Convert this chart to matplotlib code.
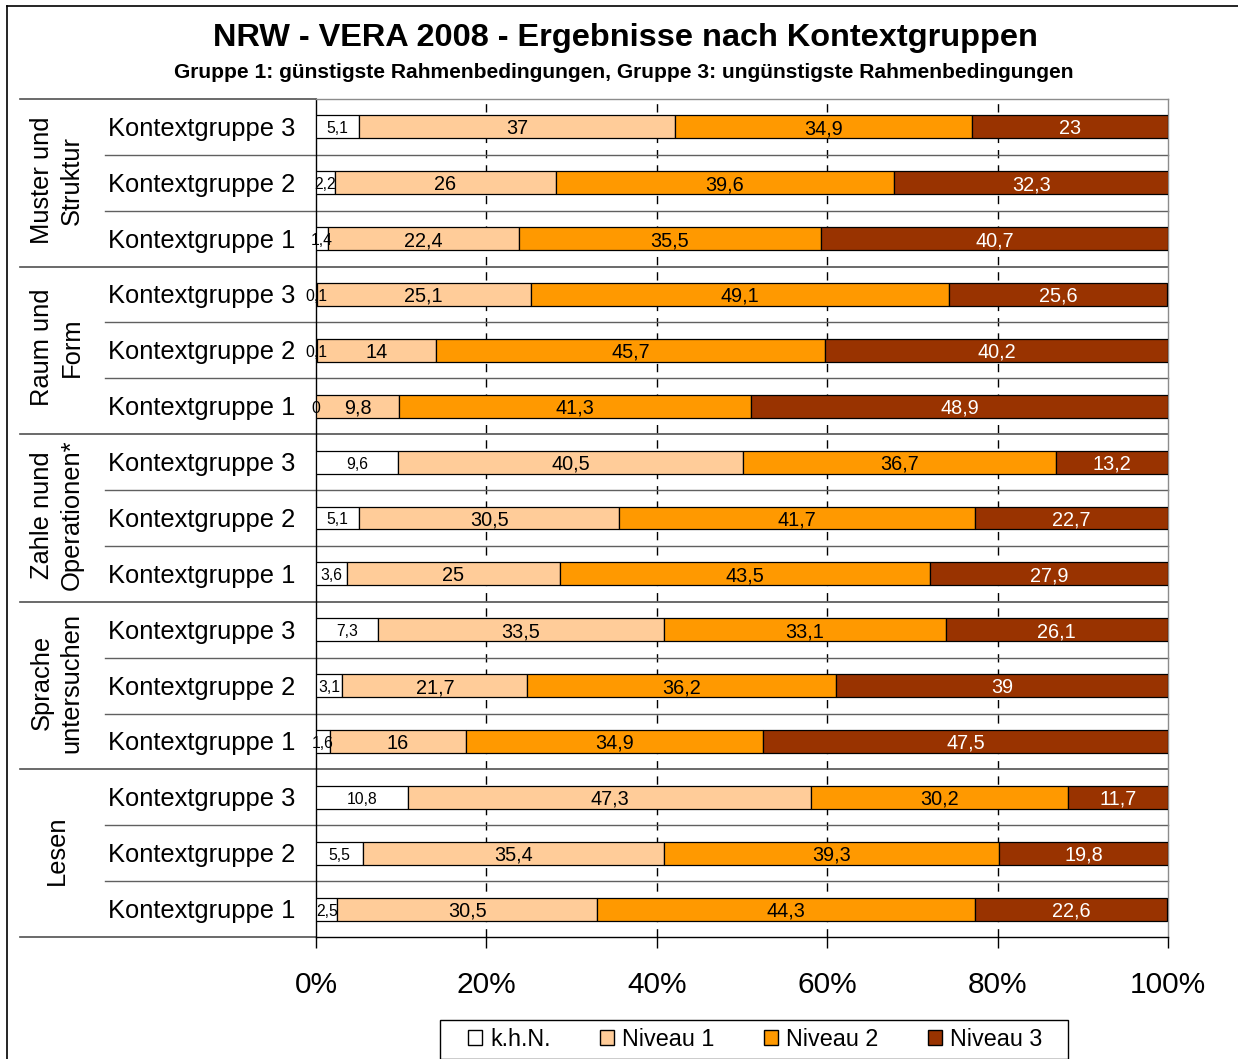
import matplotlib
matplotlib.use("Agg")
import matplotlib.pyplot as plt
import matplotlib.transforms as mtransforms
from matplotlib.lines import Line2D
from matplotlib.patches import Patch, Rectangle
import numpy as np

plt.rcParams['font.family'] = ['Liberation Sans', 'DejaVu Sans']

title = "NRW - VERA 2008 - Ergebnisse nach Kontextgruppen"
subtitle = "Gruppe 1: günstigste Rahmenbedingungen, Gruppe 3: ungünstigste Rahmenbedingungen"

groups = ["Muster und\nStruktur", "Raum und\nForm", "Zahle nund\nOperationen*",
          "Sprache\nuntersuchen", "Lesen"]
rows = ["Kontextgruppe 3", "Kontextgruppe 2", "Kontextgruppe 1"] * 5
series = ["k.h.N.", "Niveau 1", "Niveau 2", "Niveau 3"]

# values top to bottom
khn = [5.1, 2.2, 1.4, 0.1, 0.1, 0, 9.6, 5.1, 3.6, 7.3, 3.1, 1.6, 10.8, 5.5, 2.5]
niv1 = [37, 26, 22.4, 25.1, 14, 9.8, 40.5, 30.5, 25, 33.5, 21.7, 16, 47.3, 35.4, 30.5]
niv2 = [34.9, 39.6, 35.5, 49.1, 45.7, 41.3, 36.7, 41.7, 43.5, 33.1, 36.2, 34.9, 30.2, 39.3, 44.3]
niv3 = [23, 32.3, 40.7, 25.6, 40.2, 48.9, 13.2, 22.7, 27.9, 26.1, 39, 47.5, 11.7, 19.8, 22.6]
xticks = [0, 20, 40, 60, 80, 100]
xticklabels = ["0%", "20%", "40%", "60%", "80%", "100%"]

colors = ["#FFFFFF", "#FFCC99", "#FF9900", "#993300"]
label_colors = ["black", "black", "black", "white"]
label_sizes = [11.3, 14.3, 14.3, 14.3]

W, H = 1238, 1059
fig = plt.figure(figsize=(W / 100, H / 100), dpi=100)
L, R, T, B = 316, 1168, 99, 937
ax = fig.add_axes([L / W, 1 - B / H, (R - L) / W, (B - T) / H])

n = len(rows)
y = np.arange(n) + 0.5
left = np.zeros(n)
for vals, c, lc, ls in zip([khn, niv1, niv2, niv3], colors, label_colors, label_sizes):
    vals = np.array(vals, dtype=float)
    ax.barh(y, vals, left=left, height=0.41, color=c, edgecolor='black',
            linewidth=0.9, zorder=3)
    for yi, l0, v in zip(y, left, vals):
        ax.text(l0 + v / 2, yi + 0.035, f"{v:g}".replace('.', ','), ha='center', va='center',
                fontsize=ls, color=lc, zorder=4)
    left = left + vals

ax.set_xlim(0, 100)
ax.set_ylim(n, 0)
ax.set_yticks([])
ax.set_xticks(xticks)
ax.set_xticklabels(xticklabels, fontsize=21.5)
ax.tick_params(axis='x', direction='out', length=8, width=1, color='black', pad=16.5)

for x in xticks[1:-1]:
    ax.axvline(x, color='black', lw=1, ls=(0, (6, 5)), zorder=1)

ax.spines['left'].set_color('black')
ax.spines['bottom'].set_color('black')
ax.spines['top'].set_color('#8c8c8c')
ax.spines['right'].set_color('#8c8c8c')
for s in ax.spines.values():
    s.set_linewidth(1)

trans = mtransforms.blended_transform_factory(ax.transAxes, ax.transData)
x_row = (105 - L) / (R - L)
x_grp = (20 - L) / (R - L)
for k in range(1, n):
    if k % 3 == 0:
        ax.add_line(Line2D([x_grp, 1], [k, k], transform=trans, color='#505050', lw=1.2,
                           clip_on=False, zorder=1))
    else:
        ax.add_line(Line2D([x_row, 1], [k, k], transform=trans, color='#606060', lw=1,
                           clip_on=False, zorder=1))
ax.add_line(Line2D([x_grp, 0], [0, 0], transform=trans, color='#505050', lw=1.2, clip_on=False))
ax.add_line(Line2D([x_grp, 0], [n, n], transform=trans, color='#505050', lw=1.2, clip_on=False))

x_cat = (108 - L) / (R - L)
for i, lab in enumerate(rows):
    ax.text(x_cat, y[i] + 0.035, lab, transform=trans, ha='left', va='center', fontsize=18.4)

x_g = (57 - L) / (R - L)
for g, lab in enumerate(groups):
    ax.text(x_g, g * 3 + 1.45, lab, transform=trans, ha='center', va='center', rotation=90,
            fontsize=18.4, multialignment='center', linespacing=1.3)

fig.text(625 / W, 1 - 38 / H, title, ha='center', va='center', fontsize=23.4, fontweight='bold')
fig.text(624 / W, 1 - 72 / H, subtitle, ha='center', va='center', fontsize=15.1, fontweight='bold')

handles = [Patch(facecolor=c, edgecolor='black', linewidth=1) for c in colors]
leg = fig.legend(handles, series, loc='center', bbox_to_anchor=(755 / W, 1 - 1039 / H), ncol=4,
                 frameon=False, fontsize=16.8,
                 handlelength=0.6, handleheight=0.6, handletextpad=0.35,
                 columnspacing=2.12, borderpad=0.3, borderaxespad=0)
fig.add_artist(Rectangle((440 / W, 0), 628 / W, 1 - 1020 / H, transform=fig.transFigure,
                         facecolor='none', edgecolor='black', lw=1))

fig.add_artist(Line2D([7 / W, 7 / W], [0, 1 - 6 / H], transform=fig.transFigure, color='black', lw=1.2))
fig.add_artist(Line2D([7 / W, 1], [1 - 6 / H, 1 - 6 / H], transform=fig.transFigure, color='black', lw=1.2))

fig.savefig("out.png", dpi=100)
